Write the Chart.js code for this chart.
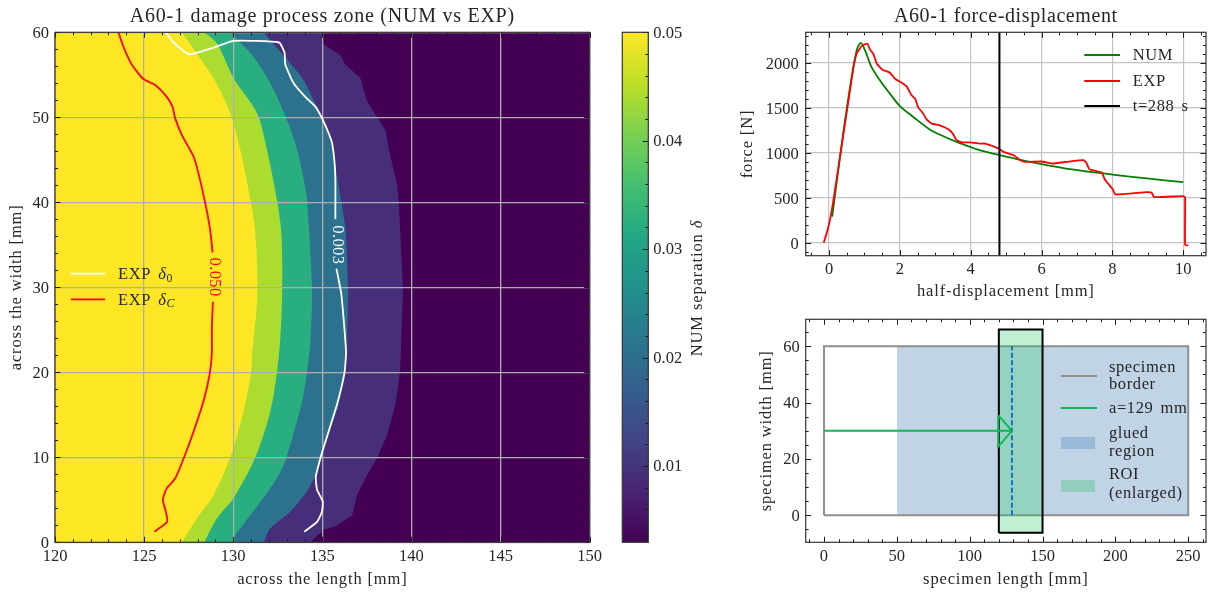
<!DOCTYPE html>
<html><head><meta charset="utf-8">
<script src="https://cdn.jsdelivr.net/npm/chart.js@4"></script>
<style>
html,body{margin:0;padding:0;background:#fff;width:1208px;height:595px;overflow:hidden}
canvas{position:absolute}
</style></head><body>
<canvas id="main" width="612" height="595" style="left:0;top:0"></canvas>
<canvas id="cbar" width="110" height="595" style="left:612px;top:0"></canvas>
<canvas id="force" width="488" height="302" style="left:720px;top:0"></canvas>
<canvas id="spec" width="488" height="293" style="left:720px;top:302px"></canvas>
<script>
// ---------- contour bands (x along length, y across width)
const bandY1=[0,1.45,1.85,3.2,5.6,7.9,9.9,12.6,16.2,20.5,30,39.9,42.2,46.2,48.5,51.9,54.6,56.2,57.3,58.7,60];
const bandX1=[134.32,135.07,135.73,136.67,136.95,137.51,138.07,138.63,139.1,139.38,139.53,139.29,139.19,138.73,138.54,137.51,137.13,136.29,136.01,134.98,134.98];
const bandY2=[0,1.65,3.6,6,8.3,12.2,16.2,19.7,24,30,37.1,41.8,46.5,50,51.6,54.4,56.35,60];
const bandX2=[131.7,132.08,133.2,134.14,134.7,135.26,135.92,136.2,136.39,136.44,136.29,135.92,135.54,134.98,134.61,133.95,133.2,131.7];
const bandY3=[0,0.5,6.35,9.1,12.2,16.5,20,23.6,30,40.3,41.8,46.2,49.7,54,57.1,60];
const bandX3=[130,130.02,132.08,132.83,133.3,133.86,134.14,134.33,134.42,134.14,134.04,133.58,133.01,132.08,131.14,129.83];
const bandY4=[0,2.8,5.2,10,15.4,20,24,30,36.35,40.3,46.2,50.5,54.6,58.7,60];
const bandX4=[128.37,129.08,130.02,131.24,132.08,132.45,132.64,132.75,132.7,132.45,131.89,131.33,130.02,129.08,128.37];
const bandY5=[0,2.8,5.6,10,15.4,20,22,29,36.35,40.3,46.2,50.5,54.6,56.9,60];
const bandX5=[127.12,127.96,128.9,129.83,130.58,131,131.05,131.35,131.24,130.96,130.39,129.83,128.9,128.15,127.12];
const bandTopX=[150,150];
const bandTopY=[0,60];
const bandColors=['#440154','#472e7b','#2c728e','#29af7f','#addc30','#fde725'];
const expCX=[123.56,123.84,124.31,124.96,125.62,126.27,126.59,126.74,127.12,127.77,128.05,128.43,128.71,128.84,null,128.86,128.8,128.8,128.67,128.37,127.87,127.3,126.74,126.27,126.05,126.22,126.29,125.58];
const expCY=[60,58.3,56.2,54.5,53.8,52.4,51.25,49.9,47.9,45.4,43.4,39.9,36.7,34.1,null,28.3,25.2,22.2,19.7,16.9,13.6,10.3,7.5,6.35,5,3.6,2.4,1.25];
const exp0X=[126.22,126.65,127.53,128.9,130.02,132.57,132.88,132.92,133.39,134.04,134.61,134.98,135.3,135.54,135.68,135.73,135.73,null,135.79,136.05,136.16,136.33,136.24,135.82,135.17,134.89,134.63,134.7,135.02,134.98,134.7,133.99];
const exp0Y=[60,58.8,57.4,58.2,59,58.8,57.6,56.2,54,52.4,51.25,49.9,48.4,47,44.8,42.7,38,null,32.2,29.4,27.1,22.4,19.9,16.2,11.8,9.9,7.7,6.2,4.8,3.6,2.4,1.25];
const mainXTicks=[120,125,130,135,140,145,150];
const mainYTicks=[0,10,20,30,40,50,60];
// ---------- colour bar
const cbarRange=[0.00296,0.05];
const cbarTicks=[0.01,0.02,0.03,0.04,0.05];
const viridis=['#440154','#482475','#414487','#355f8d','#2a788e','#21918c','#22a884','#44bf70','#7ad151','#bddf26','#fde725'];
// ---------- force-displacement
const numX=[0.09,0.31,0.55,0.78,0.9,1.02,1.2,1.44,1.72,2,2.38,2.85,3.23,3.6,3.98,4.32,4.82,5.3,6,6.8,8,8.97,10];
const numF=[289,955,1622,2140,2226,2140,1955,1807,1659,1522,1400,1259,1185,1122,1067,1022,974,930,874,819,759,715,674];
const expX=[-0.15,-0.04,0.08,0.31,0.55,0.69,0.78,0.92,1.08,1.16,1.25,1.35,1.51,1.72,1.86,2.05,2.19,2.33,2.43,2.52,2.64,2.76,2.9,3.13,3.37,3.49,3.6,3.74,3.98,4.26,4.41,4.79,4.93,5.21,5.4,5.54,6,6.29,6.71,7.18,7.26,7.35,7.7,7.78,8.01,8.08,8.97,9.11,9.17,10,10.05,10.05,10.14];
const expF=[0,141,363,955,1585,1955,2104,2189,2218,2148,2104,1993,1926,1893,1826,1781,1741,1641,1604,1504,1448,1370,1326,1307,1263,1215,1141,1118,1118,1104,1104,1048,1011,974,919,900,904,881,900,919,893,819,781,707,593,537,563,556,507,519,504,-26,-30];
const timeX=[4.81,4.81];
const timeF=[-145,2343];
const forceXTicks=[0,2,4,6,8,10];
const forceYTicks=[0,500,1000,1500,2000];
// ---------- specimen
const borderX=[0,250,250,0,0];
const borderY=[0,0,60,60,0];
const gluedX=[50,250];
const gluedY=[60,60];
const roiFillX=[120,150];
const roiFillY=[66,66];
const roiX=[120,150,150,120,120];
const roiY=[-6.2,-6.2,66,66,-6.2];
const crackX=[129,129];
const crackY=[0,60];
const arrowX=[0,129];
const arrowY=[30,30];
const headX=[119.6,129,119.6,119.6];
const headY=[35.6,30,24.4,35.6];
const specXTicks=[0,50,100,150,200,250];
const specYTicks=[0,20,40,60];

const FONT='"Liberation Serif"';
const INK='#262626';
const TXT=16.5;
Chart.defaults.font.family=FONT;
Chart.defaults.font.size=TXT;
Chart.defaults.color=INK;
Chart.defaults.animation=false;
const pts=(xs,ys)=>xs.map((x,i)=>({x,y:ys[i]}));

function richText(ctx,parts,x,y,size){
  let cx=x;
  parts.forEach(p=>{
    const s=p.sub?size*0.72:size;
    ctx.font=(p.it?'italic ':'')+s+'px '+FONT;
    ctx.fillText(p.t,cx,y+(p.sub?4:0));
    cx+=ctx.measureText(p.t).width;
  });
}
function spaced(ctx,fn,sp){ctx.letterSpacing=sp+'px';fn();ctx.letterSpacing='0px';}
const frameTicks={
  id:'frameTicks',
  beforeDraw(chart,args,o){
    const ctx=chart.ctx;
    ctx.letterSpacing='0px';
    if(chart.titleBlock && !chart.titleBlock._sp){
      const d=chart.titleBlock.draw.bind(chart.titleBlock);
      chart.titleBlock.draw=function(){spaced(ctx,d,o.titleSp||0.8);};
      chart.titleBlock._sp=true;
    }
    Object.values(chart.scales).forEach(s=>{
      if(!s._sp){const d=s.drawTitle.bind(s);s.drawTitle=function(...a){spaced(ctx,()=>d(...a),0.85);};s._sp=true;}
    });
  },
  beforeDatasetDraw(chart,args){
    if(chart.data.datasets[args.index].late) return false;
  },
  afterDraw(chart,args,o){
    const ctx=chart.ctx,a=chart.chartArea;
    ctx.save();ctx.beginPath();ctx.rect(a.left,a.top,a.width,a.height);ctx.clip();
    chart.data.datasets.forEach((d,i)=>{ if(d.late) chart.getDatasetMeta(i).controller.draw(); });
    ctx.restore();
    ctx.save();
    ctx.strokeStyle='#1c1c1c';
    const mark=(x0,y0,x1,y1,w)=>{ctx.lineWidth=w;ctx.beginPath();ctx.moveTo(x0,y0);ctx.lineTo(x1,y1);ctx.stroke();};
    const doAxis=(sc,step,major,ticksAll)=>{
      if(!sc||!sc.options.display) return;
      const horiz=sc.isHorizontal();
      const draw=(v,len)=>{
        const p=Math.round(sc.getPixelForValue(v))+0.5;
        if(horiz){ mark(p,a.bottom,p,a.bottom-len,1); if(ticksAll) mark(p,a.top,p,a.top+len,1); }
        else { if(ticksAll) mark(a.left,p,a.left+len,p,1); mark(a.right,p,a.right-len,p,1); }
      };
      major.forEach(v=>draw(v,5.5));
      if(step){
        const n0=Math.ceil(sc.min/step-1e-9),n1=Math.floor(sc.max/step+1e-9);
        for(let n=n0;n<=n1;n++){const v=n*step; if(!major.some(m=>Math.abs(m-v)<step/10)) draw(v,3);}
      }
    };
    doAxis(chart.scales.x,o.xMinor,o.xMajor||[],true);
    doAxis(chart.scales.y,o.yMinor,o.yMajor||[],o.all!==false);
    ctx.strokeStyle='#333';ctx.lineWidth=1.2;
    ctx.strokeRect(a.left,a.top,a.width,a.height);
    ctx.fillStyle=INK;ctx.textBaseline='middle';ctx.textAlign='left';
    ctx.letterSpacing='0.6px';
    ctx.wordSpacing='2.5px';
    (o.legend||[]).forEach(it=>{
      if(it.kind==='line'){ctx.strokeStyle=it.color;ctx.lineWidth=1.8;ctx.beginPath();ctx.moveTo(it.x1,it.y);ctx.lineTo(it.x2,it.y);ctx.stroke();}
      if(it.kind==='patch'){ctx.fillStyle=it.color;ctx.fillRect(it.x1,it.y-6,it.x2-it.x1,12);ctx.fillStyle=INK;}
      if(it.parts) richText(ctx,it.parts,it.tx,(it.ty===undefined?it.y:it.ty)+1,TXT);
    });
    ctx.wordSpacing='0px';
    (o.rotated||[]).forEach(t=>{
      const p=t.data?[chart.scales.x.getPixelForValue(t.data[0]),chart.scales.y.getPixelForValue(t.data[1])]:t.at;
      const size=t.size||TXT;
      ctx.letterSpacing=(t.sp===undefined?0.9:t.sp)+'px';
      ctx.save();ctx.translate(p[0],p[1]);ctx.rotate(t.angle);ctx.fillStyle=t.color||INK;
      ctx.textBaseline='middle';
      let w=0;t.parts.forEach(q=>{ctx.font=(q.it?'italic ':'')+size+'px '+FONT;w+=ctx.measureText(q.t).width;});
      richText(ctx,t.parts,-w/2,0,size);
      ctx.restore();
    });
    ctx.letterSpacing='0px';
    ctx.restore();
  }
};
Chart.register(frameTicks);

const axis=(min,max,ticks,extra)=>Object.assign({
  type:'linear',min,max,
  afterBuildTicks:s=>{s.ticks=ticks.map(v=>({value:v}));},
  border:{display:false},
  ticks:{autoSkip:false,maxRotation:0,minRotation:0,padding:4,callback:v=>String(v)},
},extra);
const xFit=h=>s=>{s.height=h;s.paddingLeft=0;s.paddingRight=0;};
const yFit=w=>s=>{s.width=w;s.paddingTop=0;s.paddingBottom=0;};

// main contour chart
const bands=[[bandX5,bandY5,0.3],[bandX4,bandY4,0.3],[bandX3,bandY3,0.3],[bandX2,bandY2,0.2],[bandX1,bandY1,0.05],[bandTopX,bandTopY,0]];
const lineBase={pointRadius:0,tension:0.05,fill:false};
new Chart(document.getElementById('main'),{
  type:'line',
  data:{datasets:[
    Object.assign({},lineBase,{label:'EXP delta_C',data:pts(expCX,expCY),borderColor:'#ff0000',borderWidth:1.8,late:true,tension:0.2}),
    Object.assign({},lineBase,{label:'EXP delta_0',data:pts(exp0X,exp0Y),borderColor:'#ffffff',borderWidth:1.8,late:true,tension:0.15}),
    ...bands.map((b,i)=>({label:'band'+i,data:pts(b[0],b[1]),borderWidth:0,pointRadius:0,tension:b[2],fill:{value:120},backgroundColor:bandColors[5-i],borderColor:bandColors[5-i]}))
  ]},
  options:{
    indexAxis:'y',responsive:false,maintainAspectRatio:false,
    layout:{padding:{right:612-589.7}},
    scales:{
      x:axis(120,150,mainXTicks,{afterFit:xFit(595-542.3),grid:{z:1,color:'#aeaeae',lineWidth:1.3,drawTicks:false},title:{display:true,text:'across the length [mm]',font:{size:TXT},padding:{bottom:5,top:0},color:INK}}),
      y:axis(0,60,mainYTicks,{afterFit:yFit(55),grid:{z:1,color:'#aeaeae',lineWidth:1.3,drawTicks:false},ticks:{autoSkip:false,padding:6,labelOffset:1,callback:v=>String(v)},title:{display:true,text:'across the width [mm]',font:{size:TXT},padding:{top:7,bottom:0},color:INK}})
    },
    plugins:{
      legend:{display:false},tooltip:{enabled:false},
      title:{display:true,fullSize:false,text:'A60-1 damage process zone (NUM vs EXP)',font:{size:20,weight:'normal'},color:INK,padding:{top:5,bottom:3.3}},
      frameTicks:{xMinor:1,yMinor:2,xMajor:mainXTicks,yMajor:mainYTicks,titleSp:0.75,
        legend:[
          {kind:'line',color:'#ffffff',x1:71,x2:105,y:273.7,tx:118,parts:[{t:'EXP '},{t:'δ',it:true},{t:'0',sub:true}]},
          {kind:'line',color:'#ff0000',x1:71,x2:105,y:299.3,tx:118,parts:[{t:'EXP '},{t:'δ',it:true},{t:'C',sub:true,it:true}]}
        ],
        rotated:[
          {data:[128.95,31.2],angle:Math.PI/2,color:'#ff0000',sp:0.4,parts:[{t:'0.050'}]},
          {data:[135.82,35],angle:Math.PI/2,color:'#ffffff',sp:0.4,parts:[{t:'0.003'}]}
        ]
      }
    }
  }
});

// colour bar
new Chart(document.getElementById('cbar'),{
  type:'bar',
  data:{labels:['NUM separation'],datasets:[{label:'NUM separation',data:[cbarRange],barPercentage:1,categoryPercentage:1,borderWidth:0,
    backgroundColor:c=>{
      const a=c.chart.chartArea; if(!a) return viridis[0];
      const g=c.chart.ctx.createLinearGradient(0,a.bottom,0,a.top);
      viridis.forEach((col,i)=>g.addColorStop(i/(viridis.length-1),col));
      return g;
    }}]},
  options:{
    responsive:false,maintainAspectRatio:false,
    layout:{padding:{left:10.3,top:32.3,bottom:52.7}},
    scales:{
      x:{display:false},
      y:axis(cbarRange[0],cbarRange[1],cbarTicks,{position:'right',afterFit:yFit(110-10.3-26),grid:{display:false,drawTicks:false},ticks:{autoSkip:false,padding:5,labelOffset:1,callback:v=>v.toFixed(2)}})
    },
    plugins:{legend:{display:false},tooltip:{enabled:false},
      frameTicks:{yMinor:0.002,yMajor:cbarTicks,all:false,
        rotated:[{at:[86,288],angle:-Math.PI/2,parts:[{t:'NUM separation '},{t:'δ',it:true}]}]}
    }
  }
});

// force-displacement
new Chart(document.getElementById('force'),{
  type:'line',
  data:{datasets:[
    Object.assign({},lineBase,{label:'t=288 s',order:0,data:pts(timeX,timeF),borderColor:'#000',borderWidth:2}),
    Object.assign({},lineBase,{label:'EXP',order:1,data:pts(expX,expF),borderColor:'#ff0000',borderWidth:1.8,tension:0.12}),
    Object.assign({},lineBase,{label:'NUM',order:2,data:pts(numX,numF),borderColor:'#008000',borderWidth:1.8,tension:0.3})
  ]},
  options:{
    responsive:false,maintainAspectRatio:false,
    layout:{padding:{right:2}},
    scales:{
      x:axis(-0.658,10.64,forceXTicks,{afterFit:xFit(302-255.7),grid:{color:'#c4c4c4',lineWidth:1.2,drawTicks:false},title:{display:true,text:'half-displacement [mm]',font:{size:TXT},padding:{bottom:0,top:0},color:INK}}),
      y:axis(-145,2343,forceYTicks,{afterFit:yFit(85.7),grid:{color:'#c4c4c4',lineWidth:1.2,drawTicks:false},ticks:{autoSkip:false,padding:7,labelOffset:1.5,callback:v=>String(v)},title:{display:true,text:'force [N]',font:{size:TXT},padding:{top:18,bottom:0},color:INK}})
    },
    plugins:{legend:{display:false},tooltip:{enabled:false},
      title:{display:true,fullSize:false,text:'A60-1 force-displacement',font:{size:20,weight:'normal'},color:INK,padding:{top:5,bottom:3.3}},
      frameTicks:{xMinor:0.5,yMinor:100,xMajor:forceXTicks,yMajor:forceYTicks,titleSp:0.6,
        legend:[
          {kind:'line',color:'#008000',x1:364.3,x2:400,y:55,tx:412.7,parts:[{t:'NUM'}]},
          {kind:'line',color:'#ff0000',x1:364.3,x2:400,y:81,tx:412.7,parts:[{t:'EXP'}]},
          {kind:'line',color:'#000000',x1:364.3,x2:400,y:106,tx:412.7,parts:[{t:'t=288 s'}]}
        ]}
    }
  }
});

// specimen
const rectBase={pointRadius:0,tension:0,fill:false};
new Chart(document.getElementById('spec'),{
  type:'line',
  data:{datasets:[
    Object.assign({},rectBase,{label:'head',data:pts(headX,headY),borderColor:'#12b556',borderWidth:2}),
    Object.assign({},rectBase,{label:'a=129 mm',data:pts(arrowX,arrowY),borderColor:'#12b556',borderWidth:2}),
    Object.assign({},rectBase,{label:'crack tip',data:pts(crackX,crackY),borderColor:'#1a6fc0',borderWidth:2,borderDash:[5,2.5]}),
    Object.assign({},rectBase,{label:'ROI frame',data:pts(roiX,roiY),borderColor:'#000',borderWidth:2}),
    {label:'ROI (enlarged)',data:pts(roiFillX,roiFillY),borderWidth:0,pointRadius:0,tension:0,fill:{value:-6.2},backgroundColor:'rgba(46,204,113,0.3)'},
    Object.assign({},rectBase,{label:'specimen border',data:pts(borderX,borderY),borderColor:'#8f8f8f',borderWidth:2}),
    {label:'glued region',data:pts(gluedX,gluedY),borderWidth:0,pointRadius:0,tension:0,fill:{value:0},backgroundColor:'#c1d4e6'}
  ]},
  options:{
    responsive:false,maintainAspectRatio:false,
    layout:{padding:{right:2,top:17.3}},
    scales:{
      x:axis(-12.56,262.2,specXTicks,{afterFit:xFit(52.7),grid:{display:false,drawTicks:false},title:{display:true,text:'specimen length [mm]',font:{size:TXT},padding:{bottom:5,top:0},color:INK}}),
      y:axis(-9.6,69.6,specYTicks,{afterFit:yFit(85.7),grid:{display:false,drawTicks:false},ticks:{autoSkip:false,padding:6,labelOffset:1,callback:v=>String(v)},title:{display:true,text:'specimen width [mm]',font:{size:TXT},padding:{top:37,bottom:0},color:INK}})
    },
    plugins:{legend:{display:false},tooltip:{enabled:false},
      frameTicks:{xMinor:10,yMinor:5,xMajor:specXTicks,yMajor:specYTicks,
        legend:[
          {kind:'line',color:'#8f8f8f',x1:340.7,x2:377,y:74,tx:389,ty:65,parts:[{t:'specimen'}]},
          {tx:389,y:82,parts:[{t:'border'}]},
          {kind:'line',color:'#12b556',x1:340.7,x2:377,y:106,tx:389,parts:[{t:'a=129 mm'}]},
          {kind:'patch',color:'#9ab8d8',x1:341,x2:375,y:141,tx:389,ty:131,parts:[{t:'glued'}]},
          {tx:389,y:149,parts:[{t:'region'}]},
          {kind:'patch',color:'#93cdbd',x1:341,x2:375,y:184,tx:389,ty:172,parts:[{t:'ROI'}]},
          {tx:389,y:191,parts:[{t:'(enlarged)'}]}
        ]}
    }
  }
});
</script>
</body></html>
